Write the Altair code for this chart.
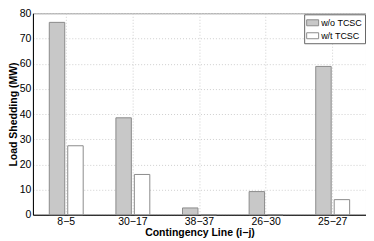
import altair as alt
import pandas as pd

lines = ["8−5", "30−17", "38−37", "26−30", "25−27"]
without_tcsc = [76.4, 38.5, 2.7, 9.2, 58.9]
with_tcsc = [27.4, 16.0, 0.0, 0.0, 6.0]
series = ["w/o TCSC", "w/t TCSC"]
y_ticks = [0, 10, 20, 30, 40, 50, 60, 70, 80]

rows = []
for i, ln in enumerate(lines):
    rows.append({"line": ln, "series": series[0], "value": without_tcsc[i]})
    rows.append({"line": ln, "series": series[1], "value": with_tcsc[i]})
df = pd.DataFrame(rows)

font = "Liberation Sans"

chart = alt.Chart(df).mark_bar(stroke="#8c8c8c", strokeWidth=1).encode(
    x=alt.X("line:N", sort=lines,
            scale=alt.Scale(paddingInner=0, paddingOuter=0),
            axis=alt.Axis(title="Contingency Line (i−j)", labelAngle=0,
                          grid=True, bandPosition=0.5, ticks=False,
                          labelPadding=2, titlePadding=0)),
    xOffset=alt.XOffset("series:N", sort=series,
                        scale=alt.Scale(paddingInner=0.163, paddingOuter=0.886)),
    y=alt.Y("value:Q", scale=alt.Scale(domain=[0, 80], nice=False),
            axis=alt.Axis(title="Load Shedding (MW)", values=y_ticks,
                          grid=True, ticks=False, labelPadding=2, titlePadding=1)),
    color=alt.Color("series:N", sort=series,
                    scale=alt.Scale(domain=series, range=["#c8c8c8", "#ffffff"]),
                    legend=alt.Legend(title=None, orient="top-right", offset=1,
                                      symbolType="M-1,-0.5H1V0.5H-1Z", symbolSize=144,
                                      symbolStrokeColor="#8c8c8c", symbolStrokeWidth=1,
                                      symbolOpacity=1,
                                      labelFont=font, labelFontSize=9, labelColor="#000",
                                      strokeColor="#666", fillColor="#ffffff",
                                      padding=2, rowPadding=1, labelOffset=2)),
).properties(
    width=334, height=202,
    padding={"left": 0, "top": 0, "right": 0, "bottom": 0},
).configure_view(
    stroke="#999", strokeWidth=1
).configure_axis(
    domainColor="#000", domainWidth=1,
    gridColor="#cfcfcf", gridDash=[1, 2], gridWidth=1,
    labelFont=font, labelFontSize=10.5, labelColor="#000",
    titleFont=font, titleFontSize=10.5, titleFontWeight="bold", titleColor="#000",
)

chart.save("out.html", embed_options={"renderer": "svg", "actions": False})
